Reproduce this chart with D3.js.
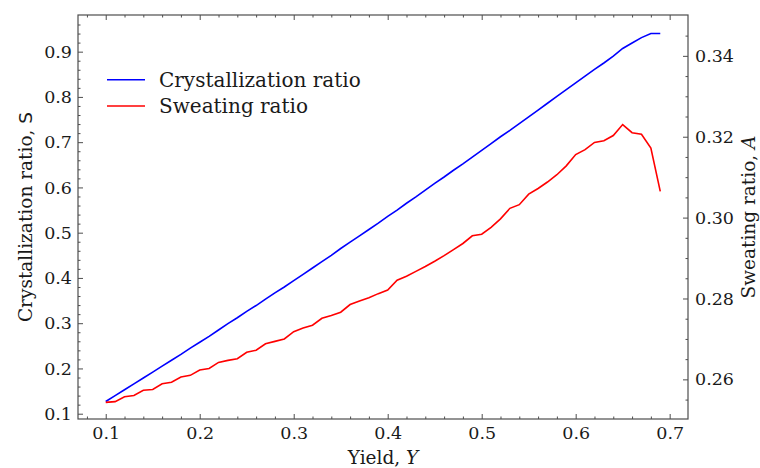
<!DOCTYPE html>
<html>
<head>
<meta charset="utf-8">
<script src="https://cdn.jsdelivr.net/npm/d3@7"></script>
<style>
  body { margin: 0; background: #fff; }
  text { font-family: "DejaVu Serif", serif; fill: #1a1a1a; }
</style>
</head>
<body>
<svg id="chart" width="760" height="468"></svg>
<script>
// Yield values (x), 0.10 .. 0.69
const yieldVals = [0.10, 0.11, 0.12, 0.13, 0.14, 0.15, 0.16, 0.17, 0.18, 0.19,
  0.20, 0.21, 0.22, 0.23, 0.24, 0.25, 0.26, 0.27, 0.28, 0.29,
  0.30, 0.31, 0.32, 0.33, 0.34, 0.35, 0.36, 0.37, 0.38, 0.39,
  0.40, 0.41, 0.42, 0.43, 0.44, 0.45, 0.46, 0.47, 0.48, 0.49,
  0.50, 0.51, 0.52, 0.53, 0.54, 0.55, 0.56, 0.57, 0.58, 0.59,
  0.60, 0.61, 0.62, 0.63, 0.64, 0.65, 0.66, 0.67, 0.68, 0.69];

// Crystallization ratio S (left axis)
const crystRatio = [0.127, 0.140, 0.153, 0.166, 0.179, 0.192, 0.205, 0.218, 0.231, 0.245,
  0.258, 0.271, 0.285, 0.299, 0.312, 0.326, 0.339, 0.353, 0.367, 0.380,
  0.394, 0.408, 0.422, 0.436, 0.450, 0.465, 0.479, 0.493, 0.507, 0.521,
  0.536, 0.550, 0.565, 0.579, 0.594, 0.609, 0.623, 0.638, 0.652, 0.667,
  0.682, 0.697, 0.712, 0.726, 0.741, 0.756, 0.771, 0.786, 0.801, 0.816,
  0.831, 0.846, 0.861, 0.875, 0.890, 0.907, 0.919, 0.931, 0.940, 0.940];

// Sweating ratio A (right axis)
const sweatRatio = [0.2543, 0.2545, 0.2557, 0.2560, 0.2573, 0.2575, 0.2589, 0.2593, 0.2606, 0.2610,
  0.2623, 0.2627, 0.2642, 0.2647, 0.2651, 0.2667, 0.2672, 0.2688, 0.2694, 0.2700,
  0.2718, 0.2727, 0.2734, 0.2751, 0.2758, 0.2766, 0.2785, 0.2794, 0.2802, 0.2812,
  0.2821, 0.2845, 0.2855, 0.2867, 0.2879, 0.2892, 0.2906, 0.2921, 0.2936, 0.2955,
  0.2959, 0.2976, 0.2997, 0.3023, 0.3032, 0.3058, 0.3072, 0.3088, 0.3106, 0.3128,
  0.3156, 0.3168, 0.3186, 0.3190, 0.3203, 0.3230, 0.3210, 0.3206, 0.3172, 0.3065];

// Tick values
const xTicks = [0.1, 0.2, 0.3, 0.4, 0.5, 0.6, 0.7];
const leftTicks = [0.1, 0.2, 0.3, 0.4, 0.5, 0.6, 0.7, 0.8, 0.9];
const rightTicks = [0.26, 0.28, 0.30, 0.32, 0.34];

const seriesNames = ["Crystallization ratio", "Sweating ratio"];
const seriesColors = ["#0000ff", "#ff0000"];

// Plot area
const margin = { top: 15, right: 72, bottom: 49, left: 78 };
const width = 760 - margin.left - margin.right;
const height = 468 - margin.top - margin.bottom;
const axisColor = "#4d4d4d";
const tickFont = "17.5px";
const labelFont = "18.5px";

const svg = d3.select("#chart")
  .append("g")
  .attr("transform", `translate(${margin.left},${margin.top})`);

const x = d3.scaleLinear().domain([0.0705, 0.7195]).range([0, width]);
const yL = d3.scaleLinear().domain([0.0883, 0.981]).range([height, 0]);
const yR = d3.scaleLinear().domain([0.2502, 0.3501]).range([height, 0]);

// minor ticks
const xMinor = d3.range(0.08, 0.72, 0.02).filter(v => Math.abs(v * 10 - Math.round(v * 10)) > 1e-6);
const lMinor = d3.range(0.10, 0.98, 0.02).filter(v => Math.abs(v * 10 - Math.round(v * 10)) > 1e-6);
const rMinor = d3.range(0.255, 0.350, 0.005).filter(v => Math.abs(v * 50 - Math.round(v * 50)) > 1e-6);

function styleAxis(g) {
  g.select(".domain").remove();
  g.selectAll("line").attr("stroke", axisColor).attr("stroke-width", 1);
}
function styleText(g) {
  g.selectAll("text")
    .style("font-size", tickFont)
    .attr("font-family", "DejaVu Serif")
    .attr("fill", "#1a1a1a");
}

// bottom axis (ticks pointing in)
svg.append("g")
  .attr("transform", `translate(0,${height})`)
  .call(d3.axisBottom(x).tickValues(xTicks).tickSize(-5).tickPadding(8).tickFormat(d3.format(".1f")))
  .call(styleAxis)
  .call(styleText);
svg.append("g")
  .attr("transform", `translate(0,${height})`)
  .call(d3.axisBottom(x).tickValues(xMinor).tickSize(-2.5).tickFormat(""))
  .call(styleAxis);

// top axis ticks
svg.append("g")
  .call(d3.axisTop(x).tickValues(xTicks).tickSize(-5).tickFormat(""))
  .call(styleAxis);
svg.append("g")
  .call(d3.axisTop(x).tickValues(xMinor).tickSize(-2.5).tickFormat(""))
  .call(styleAxis);

// left axis
svg.append("g")
  .call(d3.axisLeft(yL).tickValues(leftTicks).tickSize(-5).tickPadding(6).tickFormat(d3.format(".1f")))
  .call(styleAxis)
  .call(styleText);
svg.append("g")
  .call(d3.axisLeft(yL).tickValues(lMinor).tickSize(-2.5).tickFormat(""))
  .call(styleAxis);

// right axis
svg.append("g")
  .attr("transform", `translate(${width},0)`)
  .call(d3.axisRight(yR).tickValues(rightTicks).tickSize(-5).tickPadding(7).tickFormat(d3.format(".2f")))
  .call(styleAxis)
  .call(styleText);
svg.append("g")
  .attr("transform", `translate(${width},0)`)
  .call(d3.axisRight(yR).tickValues(rMinor).tickSize(-2.5).tickFormat(""))
  .call(styleAxis);

// frame
svg.append("rect")
  .attr("width", width)
  .attr("height", height)
  .attr("fill", "none")
  .attr("stroke", axisColor)
  .attr("stroke-width", 1.2);

// lines
const crystLine = d3.line().x((d, i) => x(yieldVals[i])).y(d => yL(d));
const sweatLine = d3.line().x((d, i) => x(yieldVals[i])).y(d => yR(d));

svg.append("path")
  .datum(crystRatio)
  .attr("d", crystLine)
  .attr("fill", "none")
  .attr("stroke", seriesColors[0])
  .attr("stroke-width", 1.6);

svg.append("path")
  .datum(sweatRatio)
  .attr("d", sweatLine)
  .attr("fill", "none")
  .attr("stroke", seriesColors[1])
  .attr("stroke-width", 1.6);

// legend
const legend = svg.append("g").attr("transform", "translate(29,64.7)");
seriesNames.forEach((name, i) => {
  legend.append("line")
    .attr("x1", 0).attr("x2", 38)
    .attr("y1", i * 26.3).attr("y2", i * 26.3)
    .attr("stroke", seriesColors[i])
    .attr("stroke-width", 1.6);
  legend.append("text")
    .attr("x", 52)
    .attr("y", i * 26.3)
    .attr("dy", "0.35em")
    .style("font-size", "20px")
    .text(name);
});

// axis labels
const xLabel = svg.append("text")
  .attr("x", width / 2)
  .attr("y", height + 45)
  .attr("text-anchor", "middle")
  .style("font-size", labelFont);
xLabel.append("tspan").text("Yield, ");
xLabel.append("tspan").style("font-style", "italic").text("Y");

const lLabel = svg.append("text")
  .attr("transform", `translate(-46,${height / 2}) rotate(-90)`)
  .attr("text-anchor", "middle")
  .style("font-size", labelFont);
lLabel.append("tspan").text("Crystallization ratio, ");
lLabel.append("tspan").style("font-family", "DejaVu Sans").text("S");

const rLabel = svg.append("text")
  .attr("transform", `translate(${width + 67},${height / 2}) rotate(-90)`)
  .attr("text-anchor", "middle")
  .style("font-size", labelFont);
rLabel.append("tspan").text("Sweating ratio, ");
rLabel.append("tspan").style("font-style", "italic").text("A");
</script>
</body>
</html>
